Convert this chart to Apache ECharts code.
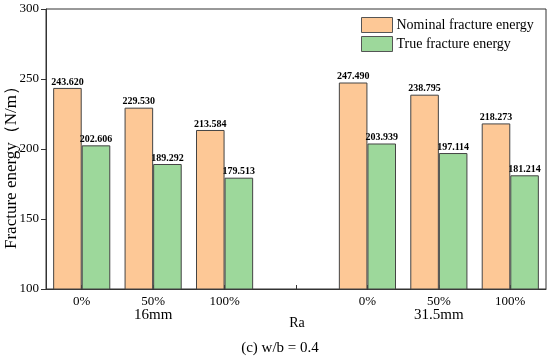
<!DOCTYPE html>
<html><head><meta charset="utf-8">
<script src="https://cdn.jsdelivr.net/npm/echarts@6/dist/echarts.min.js"></script>
<style>html,body{margin:0;padding:0;background:#fff}#c{width:550px;height:358px}</style>
</head><body><div id="c"></div>
<script>
var categories = ['0%', '50%', '100%', '', '0%', '50%', '100%'];
var groupLabels = ['', '16mm', '', '', '', '31.5mm', ''];
var nominal = [243.620, 229.530, 213.584, null, 247.490, 238.795, 218.273];
var trueE = [202.606, 189.292, 179.513, null, 203.939, 197.114, 181.214];
var yTicks = [100, 150, 200, 250, 300];
var seriesNames = ['Nominal fracture energy', 'True fracture energy'];

var serif = '"Liberation Serif", "Times New Roman", serif';
var chart = echarts.init(document.getElementById('c'));
var labelStyle = {show: true, position: 'top', distance: 1, fontFamily: serif, fontSize: 10, fontWeight: 'bold', color: '#000',
  formatter: function (p) { return p.value == null ? '' : p.value.toFixed(3); }};
chart.setOption({
  animation: false,
  grid: {left: 46, right: 4, top: 9, bottom: 69, show: true, borderColor: '#333', borderWidth: 1, backgroundColor: 'transparent'},
  legend: {
    orient: 'vertical', left: 361, top: 17, padding: 0, itemWidth: 31, itemHeight: 15, itemGap: 3, icon: 'rect',
    itemStyle: {borderColor: '#555', borderWidth: 1},
    textStyle: {fontFamily: serif, fontSize: 14, color: '#000', padding: [0, 0, 0, -1]},
    data: seriesNames
  },
  xAxis: [{
    type: 'category', data: categories, position: 'bottom',
    axisLine: {lineStyle: {color: '#333', width: 1}},
    axisTick: {show: true, inside: true, alignWithLabel: true, length: 4, lineStyle: {color: '#333'}},
    axisLabel: {fontFamily: serif, fontSize: 13, color: '#000', margin: 6, interval: 0}
  }, {
    type: 'category', data: groupLabels, position: 'bottom', offset: 13,
    axisLine: {show: false}, axisTick: {show: false},
    axisLabel: {fontFamily: serif, fontSize: 15, color: '#000', margin: 6, interval: 0}
  }],
  yAxis: {
    type: 'value', min: yTicks[0], max: yTicks[yTicks.length - 1], interval: 50,
    splitLine: {show: false},
    axisLine: {show: true, lineStyle: {color: '#333', width: 1}},
    axisTick: {show: true, length: 5, lineStyle: {color: '#333'}},
    axisLabel: {fontFamily: serif, fontSize: 13, color: '#000', margin: 7}
  },
  graphic: [
    {type: 'text', x: 12, y: 249, rotation: Math.PI / 2,
     style: {text: 'Fracture energy（N/m）', font: '17px ' + serif, fill: '#000', align: 'left', verticalAlign: 'middle'}},
    {type: 'text', x: 297, y: 323, style: {text: 'Ra', font: '14px ' + serif, fill: '#000', align: 'center', verticalAlign: 'middle'}},
    {type: 'text', x: 280, y: 348, style: {text: '(c) w/b = 0.4', font: '15px ' + serif, fill: '#000', align: 'center', verticalAlign: 'middle'}}
  ],
  series: [{
    name: seriesNames[0], type: 'bar', data: nominal, barGap: '0%', barCategoryGap: '20%',
    itemStyle: {color: '#FDC896', borderColor: '#444', borderWidth: 1},
    label: labelStyle
  }, {
    name: seriesNames[1], type: 'bar', data: trueE,
    itemStyle: {color: '#9DD89B', borderColor: '#444', borderWidth: 1},
    label: labelStyle
  }]
});
</script></body></html>
